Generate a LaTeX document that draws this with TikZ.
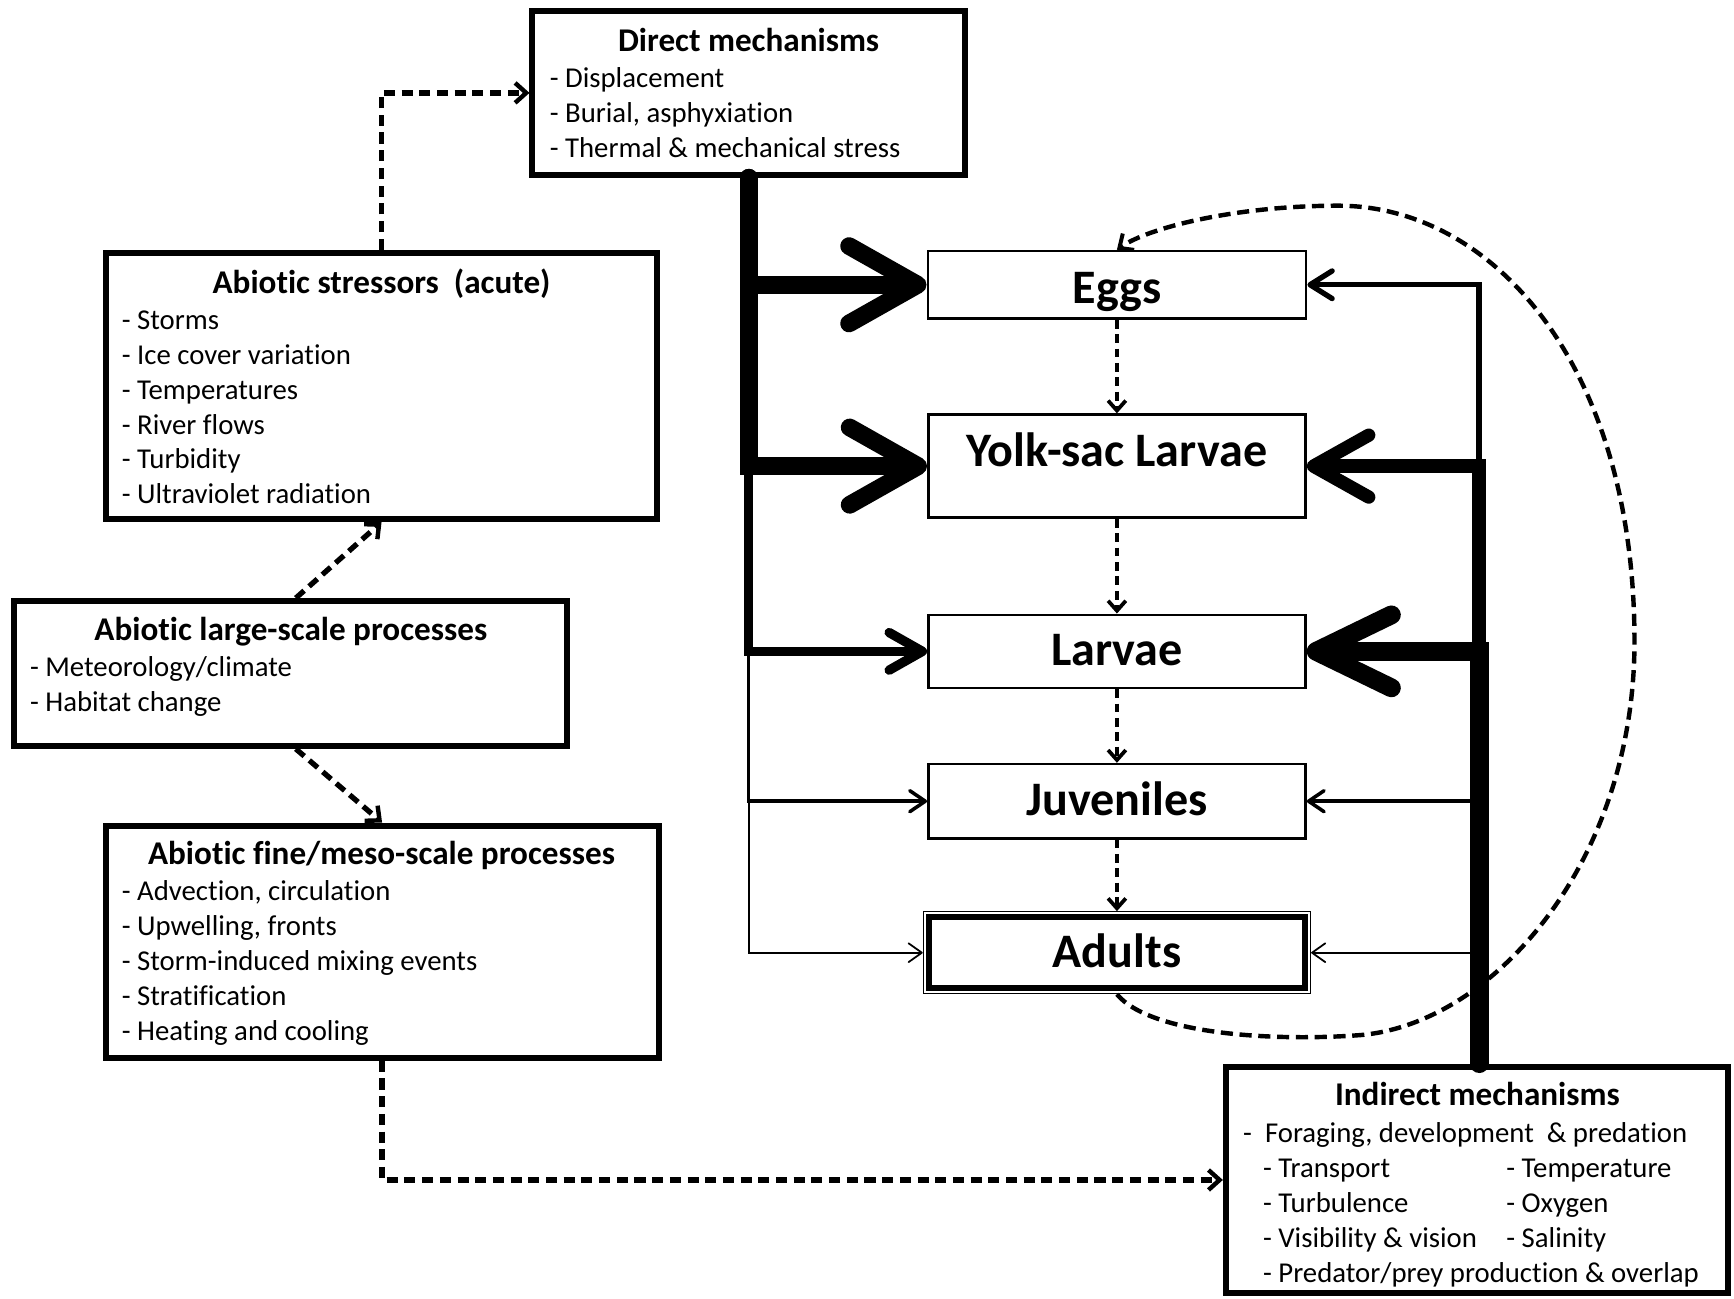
\documentclass[tikz,border=0pt]{standalone}
\usepackage{fontspec}
\setmainfont{Carlito}[Ligatures={TeX,NoCommon}]
\usetikzlibrary{arrows.meta}
\begin{document}
\begin{tikzpicture}[x=1pt,y=-1pt,
  bigbox/.style={draw, line width=5.4pt, inner sep=0pt, rectangle},
  stagebox/.style={draw, line width=2.4pt, inner sep=0pt, rectangle},
  ttl/.style={font=\fontsize{30}{36}\selectfont\bfseries, anchor=base, inner sep=0pt},
  itm/.style={font=\fontsize{26}{31.5}\selectfont, anchor=base west, inner sep=0pt},
  stg/.style={font=\fontsize{43.5}{50}\selectfont\bfseries, anchor=base, inner sep=0pt},
  dsh/.style={dash pattern=on 10pt off 6pt, line width=4.8pt, -{Straight Barb[length=10pt,width=18pt,line width=4pt]}},
  dshs/.style={dash pattern=on 8pt off 5pt, line width=3.8pt, -{Straight Barb[length=9pt,width=16pt,line width=3.4pt]}},
  brl/.style n args={3}{line width=#1, line cap=round, -{Straight Barb[length=#2,width=#3,round]}}
]
\fill[white] (0,0) rectangle (1568,1174);
\useasboundingbox (0,0) rectangle (1568,1174);

% ---------- boxes ----------
\node[bigbox, minimum width=391pt, minimum height=148pt] (direct) at (677,84) {};
\node[bigbox, minimum width=499pt, minimum height=241pt] (stress) at (345,349) {};
\node[bigbox, minimum width=500pt, minimum height=131pt] (large) at (262.5,609) {};
\node[bigbox, minimum width=500pt, minimum height=210pt] (fine) at (345.5,851.5) {};
\node[bigbox, minimum width=454pt, minimum height=205pt] (indirect) at (1335.5,1067) {};

\node[stagebox, minimum width=342pt, minimum height=61pt] (eggs) at (1010,257.5) {};
\node[stagebox, minimum width=341pt, minimum height=93pt] (yolk) at (1010,421.5) {};
\node[stagebox, minimum width=341pt, minimum height=66pt] (larvae) at (1010,589) {};
\node[stagebox, minimum width=341pt, minimum height=67pt] (juv) at (1010,724.5) {};
\node[draw, line width=1.2pt, inner sep=0pt, minimum width=350pt, minimum height=74pt] (adults) at (1010,861.5) {};
\draw[line width=5.5pt] ([shift={(5.5,-5.5)}]adults.south west) rectangle ([shift={(-5.5,5.5)}]adults.north east);

% ---------- stage labels ----------
\node[stg] (teggs) at (1010,274) {Eggs};
\node[stg] (tyolk) at (1010,422) {Yolk-sac Larvae};
\node[stg] (tlarvae) at (1010,602) {Larvae};
\node[stg] (tjuv) at (1010,737) {Juveniles};
\node[stg] (tadults) at (1010,875) {Adults};

% ---------- box texts ----------
\node[ttl] (tdirect) at (677,47) {Direct mechanisms};
\node[itm] (d1) at (497,79) {- Displacement};
\node[itm] (d2) at (497,110.5) {- Burial, asphyxiation};
\node[itm] (d3) at (497,142) {- Thermal \& mechanical stress};

\node[ttl] (tstress) at (345,265) {Abiotic stressors\ \ (acute)};
\node[itm] (s1) at (110,298) {- Storms};
\node[itm] (s2) at (110,330) {- Ice cover variation};
\node[itm] (s3) at (110,361) {- Temperatures};
\node[itm] (s4) at (110,392.5) {- River flows};
\node[itm] (s5) at (110,424) {- Turbidity};
\node[itm] (s6) at (110,455.5) {- Ultraviolet radiation};

\node[ttl] (tlarge) at (263,579) {Abiotic large-scale processes};
\node[itm] (l1) at (27,612) {- Meteorology/climate};
\node[itm] (l2) at (27,643.5) {- Habitat change};

\node[ttl] (tfine) at (345,782) {Abiotic fine/meso-scale processes};
\node[itm] (f1) at (110,814) {- Advection, circulation};
\node[itm] (f2) at (110,846) {- Upwelling, fronts};
\node[itm] (f3) at (110,877.5) {- Storm-induced mixing events};
\node[itm] (f4) at (110,909) {- Stratification};
\node[itm] (f5) at (110,941) {- Heating and cooling};

\node[ttl] (tindirect) at (1336,1000) {Indirect mechanisms};
\node[itm] (i1) at (1124,1033) {-\ \ Foraging, development\ \ \& predation};
\node[itm] (i2) at (1142,1064.5) {- Transport};
\node[itm] (i3) at (1142,1096) {- Turbulence};
\node[itm] (i4) at (1142,1128) {- Visibility \& vision};
\node[itm] (i5) at (1142,1159.5) {- Predator/prey production \& overlap};
\node[itm] (i6) at (1362,1064.5) {- Temperature};
\node[itm] (i7) at (1362,1096) {- Oxygen};
\node[itm] (i8) at (1362,1128) {- Salinity};

% ---------- dashed connectors (left) ----------
\draw[dsh] (stress.north) |- (direct.west);
\draw[dsh] ([xshift=5pt]large.north) -- (stress.south);
\draw[dsh] ([xshift=5pt]large.south) -- (fine.north);
\draw[dsh] (fine.south) |- (indirect.west);

% ---------- stage sequence ----------
\draw[dshs] (eggs.south) -- (yolk.north);
\draw[dshs] (yolk.south) -- (larvae.north);
\draw[dshs] (larvae.south) -- (juv.north);
\draw[dshs] (juv.south) -- (adults.north);

% ---------- direct mechanisms branches ----------
\draw[brl={16pt}{62pt}{70pt}] (direct.south) |- (eggs.west);
\draw[brl={16pt}{62pt}{70pt}] (direct.south) |- (yolk.west);
\draw[brl={8.5pt}{30pt}{34pt}] (direct.south) |- (larvae.west);
\draw[brl={3.2pt}{14pt}{19pt}] (direct.south) |- (juv.west);
\draw[brl={1.6pt}{12pt}{17pt}] (direct.south) |- (adults.west);

% ---------- indirect mechanisms branches ----------
\draw[brl={4.8pt}{20pt}{25pt}] ([xshift=2pt]indirect.north) |- (eggs.east);
\draw[brl={12pt}{50pt}{56pt}] ([xshift=2pt]indirect.north) |- (yolk.east);
\draw[brl={17pt}{68pt}{66pt}] ([xshift=2pt]indirect.north) |- (larvae.east);
\draw[brl={3.2pt}{14pt}{19pt}] ([xshift=2pt]indirect.north) |- (juv.east);
\draw[brl={1.6pt}{12pt}{17pt}] ([xshift=2pt]indirect.north) |- (adults.east);

% ---------- feedback curve ----------
\draw[line width=4pt, dash pattern=on 11pt off 6pt, -{Straight Barb[length=10pt,width=18pt,line width=3.6pt]}]
  (adults.south) .. controls (1040,935) and (1150,942) .. (1230,936)
  .. controls (1350,926) and (1478,780) .. (1478,580)
  .. controls (1478,330) and (1350,186) .. (1210,186)
  .. controls (1120,186) and (1040,205) .. (eggs.north);
\end{tikzpicture}
\end{document}
